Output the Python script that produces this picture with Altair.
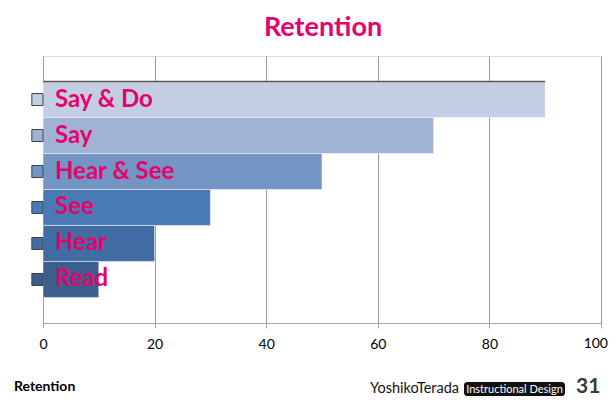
import altair as alt
import pandas as pd

categories = ["Say & Do", "Say", "Hear & See", "See", "Hear", "Read"]
values = [90, 70, 50, 30, 20, 10]
bar_colors = ["#c3cee3", "#a0b3d5", "#7395c5", "#4a7ab5", "#406ca3", "#3b5e8d"]
x_ticks = [0, 20, 40, 60, 80, 100]
title_text = "Retention"
footer_left = "Retention"
footer_name = "YoshikoTerada"
footer_badge = "Instructional Design"
page_number = "31"

PINK = "#e4036b"
FONT = "Lato"

df = pd.DataFrame({"cat": categories, "val": values, "lo": [-2] * 6, "zero": [0] * 6})

xs = alt.Scale(domain=[0, 100], nice=False, zero=True)
ys = alt.Scale(domain=categories, paddingInner=0, paddingOuter=0.71)
cs = alt.Scale(domain=categories, range=bar_colors)

base = alt.Chart(df)

bars = base.mark_bar(stroke="#ffffff", strokeOpacity=0.5, strokeWidth=1).encode(
    x=alt.X("val:Q", scale=xs,
            axis=alt.Axis(values=x_ticks, title=None, grid=True, gridColor="#9a9a9a",
                          domainColor="#a6a6a6", tickColor="#a6a6a6", tickSize=5,
                          labelFont=FONT, labelFontSize=14, labelColor="#000000",
                          labelPadding=9, labelFlush=False,
                          labelExpr="datum.value == 100 ? '' : datum.label")),
    y=alt.Y("cat:N", scale=ys, sort=categories,
            axis=alt.Axis(title=None, labels=False, ticks=False, grid=False,
                          domainColor="#a0a0a0")),
    color=alt.Color("cat:N", scale=cs, legend=None),
)

last_tick = alt.Chart(pd.DataFrame({"v": [x_ticks[-1]]})).mark_text(
    align="right", baseline="top", font=FONT, fontSize=14, color="#000000", dx=7).encode(
    x=alt.X("v:Q", scale=xs),
    y=alt.value(281),
    text=alt.Text("v:Q"),
)

tabs = base.mark_bar(height=12, stroke="#404040", strokeWidth=1).encode(
    x=alt.X("lo:Q", scale=xs),
    x2="zero:Q",
    y=alt.Y("cat:N", scale=ys, sort=categories),
    color=alt.Color("cat:N", scale=cs, legend=None),
)

top_edge = base.transform_filter(alt.datum.cat == categories[0]).mark_rule(
    color="#5a5a5a", strokeWidth=1.5).encode(
    x=alt.X("zero:Q", scale=xs),
    x2="val:Q",
    y=alt.Y("cat:N", scale=ys, sort=categories, bandPosition=0),
)

labels = base.mark_text(align="left", baseline="middle", font=FONT, fontSize=24,
                        fontWeight="bold", color=PINK).encode(
    x=alt.value(12),
    y=alt.Y("cat:N", scale=ys, sort=categories),
    text="cat:N",
)

one = pd.DataFrame({"a": [0]})
title = alt.Chart(one).mark_text(align="center", baseline="alphabetic", font=FONT,
                                 fontSize=27, fontWeight="bold", color=PINK).encode(
    x=alt.value(280), y=alt.value(-20), text=alt.value(title_text))

foot1 = alt.Chart(one).mark_text(align="left", baseline="alphabetic", font=FONT,
                                 fontSize=14, fontWeight="bold", color="#000000").encode(
    x=alt.value(-29), y=alt.value(335), text=alt.value(footer_left))

foot2 = alt.Chart(one).mark_text(align="left", baseline="alphabetic", font=FONT,
                                 fontSize=14.5, color="#111111").encode(
    x=alt.value(327), y=alt.value(337), text=alt.value(footer_name))

badge = alt.Chart(one).mark_rect(color="#111111", cornerRadius=3).encode(
    x=alt.value(421), x2=alt.value(522), y=alt.value(326), y2=alt.value(340))

badge_text = alt.Chart(one).mark_text(align="center", baseline="alphabetic", font=FONT,
                                      fontSize=11, color="#ffffff").encode(
    x=alt.value(471.5), y=alt.value(337), text=alt.value(footer_badge))

pnum = alt.Chart(one).mark_text(align="left", baseline="alphabetic", font=FONT,
                                fontSize=21, fontWeight="bold", color="#3a3a3a").encode(
    x=alt.value(533), y=alt.value(337), text=alt.value(page_number))

chart = alt.layer(bars, tabs, top_edge, labels, last_tick, title, foot1, foot2, badge, badge_text, pnum).properties(
    width=558, height=267,
    autosize=alt.AutoSizeParams(type="none"),
    padding={"left": 35, "top": 48, "right": 7, "bottom": 74},
).configure_view(stroke=None).configure(background="#ffffff")

chart.save("out.html", embed_options={"renderer": "svg", "actions": False})
